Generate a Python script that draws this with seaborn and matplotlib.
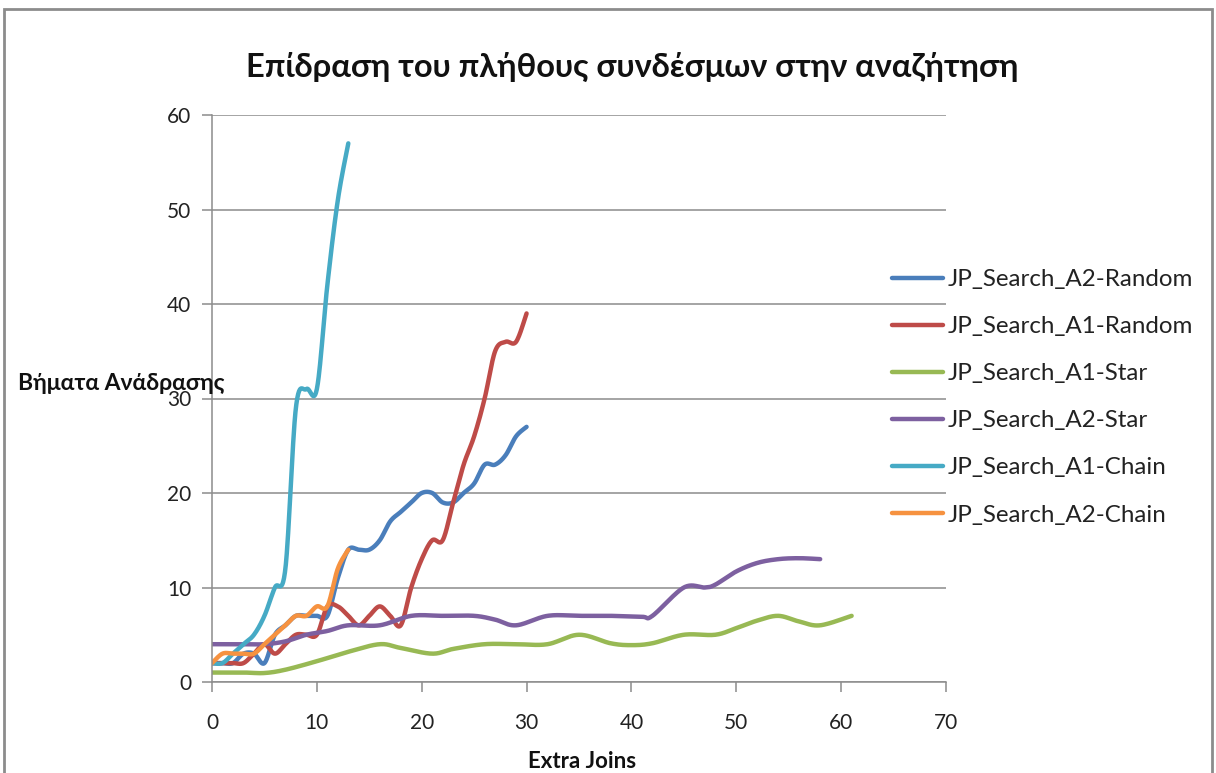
import numpy as np
import pandas as pd
import matplotlib
matplotlib.use("Agg")
import matplotlib.pyplot as plt
from matplotlib.patches import Rectangle
import seaborn as sns

# ---- data -------------------------------------------------------------
series_names = [
    "JP_Search_A2-Random",
    "JP_Search_A1-Random",
    "JP_Search_A1-Star",
    "JP_Search_A2-Star",
    "JP_Search_A1-Chain",
    "JP_Search_A2-Chain",
]

a2_random_x = list(range(0, 31))
a2_random_y = [2, 2, 2, 3, 3, 2, 5, 6, 7, 7, 7, 7, 11, 14, 14, 14, 15, 17, 18, 19,
               20, 20, 19, 19, 20, 21, 23, 23, 24, 26, 27]

a1_random_x = list(range(0, 31))
a1_random_y = [2, 2, 2, 2, 3, 4, 3, 4, 5, 5, 5, 8, 8, 7, 6, 7, 8, 7, 6, 10,
               13, 15, 15, 19, 23, 26, 30, 35, 36, 36, 39]

a1_star_x = [0, 3, 5, 7, 10, 13, 16, 18, 21, 23, 26, 29, 32, 35, 38, 40, 42, 45,
             48, 50, 52, 54, 56, 58, 61]
a1_star_y = [1, 1, 0.95, 1.3, 2.2, 3.2, 4, 3.6, 3, 3.5, 4, 4, 4, 5, 4.1, 3.9, 4.1, 5,
             5, 5.7, 6.5, 7, 6.4, 6, 7]

a2_star_x = [0, 3, 5, 7, 9, 11, 13, 16, 19, 22, 25, 27, 29, 32, 35, 38, 41, 42, 45,
             47, 48, 50, 52, 54, 56, 58]
a2_star_y = [4, 4, 4, 4.3, 5, 5.4, 6, 6, 7, 7, 7, 6.6, 6, 7, 7, 7, 6.9, 7, 10,
             10, 10.3, 11.7, 12.6, 13, 13.1, 13]

a1_chain_x = list(range(0, 14))
a1_chain_y = [2, 2, 3, 4, 5, 7, 10, 12, 29, 31, 31, 42, 51, 57]

a2_chain_x = list(range(0, 14))
a2_chain_y = [2, 3, 3, 3, 3, 4, 5, 6, 7, 7, 8, 8, 12, 14]

x_ticks = [0, 10, 20, 30, 40, 50, 60, 70]
y_ticks = [0, 10, 20, 30, 40, 50, 60]

colors = ["#4A7EBB", "#BE4B48", "#98B954", "#7D60A0", "#46AAC5", "#F69240"]

title_text = "Επίδραση του πλήθους συνδέσμων στην αναζήτηση"
ylabel_text = "Βήματα Ανάδρασης"
xlabel_text = "Extra Joins"

points = pd.concat([
    pd.DataFrame({"series": name, "x": xs, "y": ys})
    for name, xs, ys in zip(
        series_names,
        [a2_random_x, a1_random_x, a1_star_x, a2_star_x, a1_chain_x, a2_chain_x],
        [a2_random_y, a1_random_y, a1_star_y, a2_star_y, a1_chain_y, a2_chain_y],
    )
], ignore_index=True)


def smooth_curve(xs, ys, steps=24):
    """Cubic Bezier smoothing through every point (spreadsheet-style smoothed line)."""
    p = np.column_stack([xs, ys]).astype(float)
    n = len(p)
    out = [p[0]]
    t = np.linspace(0, 1, steps)[1:, None]
    for i in range(n - 1):
        p0, p1 = p[i], p[i + 1]
        pm = p[i - 1] if i > 0 else p0
        pn = p[i + 2] if i + 2 < n else p1
        c1 = p0 + (p1 - pm) / 6.0
        c2 = p1 - (pn - p0) / 6.0
        seg = ((1 - t) ** 3) * p0 + 3 * ((1 - t) ** 2) * t * c1 \
            + 3 * (1 - t) * t ** 2 * c2 + t ** 3 * p1
        out.extend(seg)
    return np.array(out)


curves = []
for name in series_names:
    sub = points[points["series"] == name]
    c = smooth_curve(sub["x"].values, sub["y"].values)
    curves.append(pd.DataFrame({"series": name, "x": c[:, 0], "y": c[:, 1]}))
curves = pd.concat(curves, ignore_index=True)

# ---- figure -----------------------------------------------------------
sns.set_theme(style="white")
plt.rcParams["font.family"] = ["Lato", "Open Sans", "DejaVu Sans"]

W, H = 1216, 773
fig = plt.figure(figsize=(W / 100, H / 100), dpi=100)
fig.patch.set_facecolor("white")

left, right, top, bottom = 212, 946, 115, 682
ax = fig.add_axes([left / W, 1 - bottom / H, (right - left) / W, (bottom - top) / H])

sns.lineplot(data=curves, x="x", y="y", hue="series", hue_order=series_names,
             palette=colors, sort=False, estimator=None, linewidth=3.2,
             solid_capstyle="round", solid_joinstyle="round", ax=ax, legend=False)

grid_col = "#8C8C8C"
ax.set_xlim(0, 70)
ax.set_ylim(0, 60)
ax.set_xticks(x_ticks)
ax.set_yticks(y_ticks)
ax.yaxis.grid(True, color=grid_col, linewidth=1.1)
ax.set_axisbelow(True)
for side in ["top", "right"]:
    ax.spines[side].set_visible(False)
for side in ["left", "bottom"]:
    ax.spines[side].set_color(grid_col)
    ax.spines[side].set_linewidth(1.1)
ax.tick_params(axis="both", direction="out", length=7, width=1.1, color=grid_col,
               labelsize=15, labelcolor="#222222", bottom=True, left=True)
ax.tick_params(axis="x", pad=15)
ax.tick_params(axis="y", pad=8)
ax.set_xlabel("")
ax.set_ylabel("")

# legend
handles = [plt.Line2D([], [], color=c, linewidth=3.2, solid_capstyle="round") for c in colors]
leg = fig.legend(handles, series_names, loc="upper left",
                 bbox_to_anchor=(880 / W, 1 - 257 / H), frameon=False,
                 fontsize=17.4, handlelength=2.1, handletextpad=0.2,
                 labelspacing=1.08, borderpad=0)
for t in leg.get_texts():
    t.set_color("#222222")

# titles and axis labels
fig.text(632 / W, 1 - 67 / H, title_text, ha="center", va="center",
         fontsize=23.5, fontweight="bold", color="#111111",
         family=["Lato", "Open Sans", "DejaVu Sans"])
fig.text(18 / W, 1 - 384 / H, ylabel_text, ha="left", va="center",
         fontsize=16.5, fontweight="bold", color="#111111",
         family=["Lato", "Open Sans", "DejaVu Sans"])
fig.text(582 / W, 1 - 762 / H, xlabel_text, ha="center", va="center",
         fontsize=16, fontweight="bold", color="#111111")

# chart-area frame
fig.add_artist(Rectangle((4 / W, -0.2), (1212 - 4) / W, 1.2 - 9 / H,
                         transform=fig.transFigure, fill=False,
                         edgecolor="#8C8C8C", linewidth=2.0))

fig.savefig("out.png", dpi=100, facecolor="white")
